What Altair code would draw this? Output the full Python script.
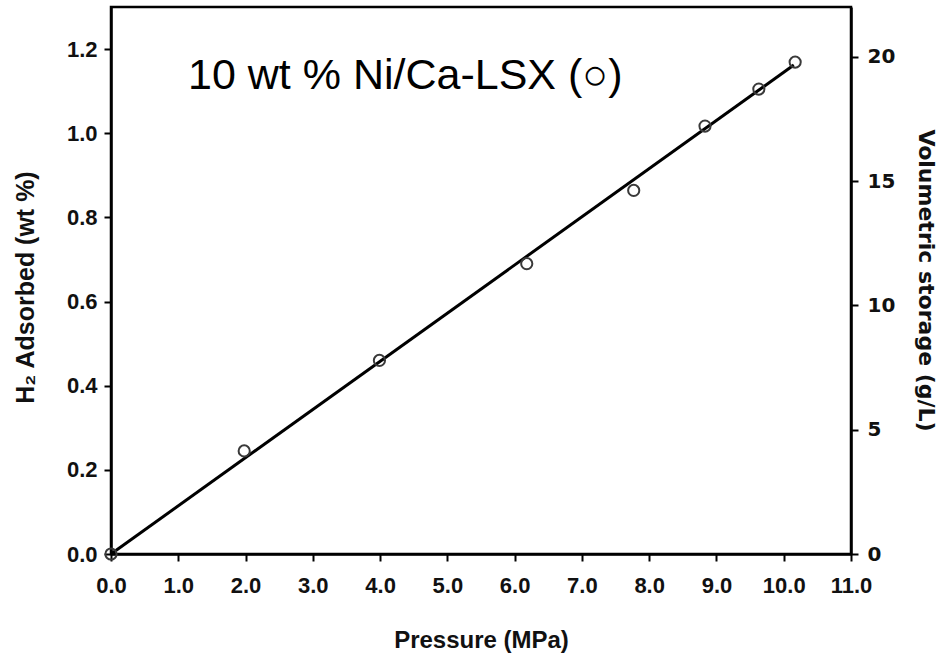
import altair as alt
import pandas as pd

# Measured hydrogen uptake of 10 wt % Ni/Ca-LSX
pressure = [0.0, 1.98, 3.99, 6.18, 7.77, 8.83, 9.63, 10.17]
adsorbed = [0.0, 0.245, 0.46, 0.69, 0.864, 1.017, 1.105, 1.169]

# Linear fit through the origin
fit_pressure = [0.0, 10.15]
fit_adsorbed = [0.0, 1.162]

# Axis ticks
x_ticks = [0.0, 1.0, 2.0, 3.0, 4.0, 5.0, 6.0, 7.0, 8.0, 9.0, 10.0, 11.0]
wt_ticks = [0.0, 0.2, 0.4, 0.6, 0.8, 1.0, 1.2]
vol_ticks = [0, 5, 10, 15, 20]

# wt % -> g/L conversion used for the secondary axis
wt_max = 1.3
vol_max = 22.0

points = pd.DataFrame({"p": pressure, "wt": adsorbed})
fit = pd.DataFrame({"p": fit_pressure, "wt": fit_adsorbed})
vol = pd.DataFrame({"p": [0.0] * len(vol_ticks), "vol": vol_ticks})

ARIAL = "Liberation Sans"
VERDANA = "DejaVu Sans"

common = dict(
    tickSize=7, tickWidth=2, domainWidth=2.5, domainColor="black",
    tickColor="black", grid=False, labelColor="#111", labelFlush=False,
    labelOverlap=False, titleColor="#111",
)

x_enc = alt.X(
    "p:Q",
    scale=alt.Scale(domain=[0, 11], nice=False, zero=False),
    axis=alt.Axis(
        values=x_ticks, format=".1f", title="Pressure (MPa)",
        labelFont=ARIAL, labelFontSize=22, labelFontWeight="bold",
        labelPadding=14,
        titleFont=ARIAL, titleFontSize=24, titleFontWeight="bold",
        titleX=370, titleY=93, titleBaseline="alphabetic", titleAlign="center",
        **common,
    ),
)

y_left = alt.Y(
    "wt:Q",
    scale=alt.Scale(domain=[0, wt_max], nice=False),
    axis=alt.Axis(
        values=wt_ticks, format=".1f", title="H₂ Adsorbed (wt %)",
        orient="left",
        labelFont=ARIAL, labelFontSize=22, labelFontWeight="bold",
        labelPadding=7,
        titleFont=ARIAL, titleFontSize=25, titleFontWeight="bold",
        titleAngle=-90, titleX=-78, titleY=280,
        titleBaseline="alphabetic", titleAlign="center",
        **common,
    ),
)

line = alt.Chart(fit).mark_line(color="black", strokeWidth=3).encode(
    x=x_enc, y=y_left
)

circles = alt.Chart(points).mark_point(
    shape="circle", filled=False, size=125, color="#3a3a3a", strokeWidth=2, opacity=1
).encode(x=x_enc, y=y_left)

left = alt.layer(line, circles)

right = alt.Chart(vol).mark_point(opacity=0).encode(
    x=x_enc,
    y=alt.Y(
        "vol:Q",
        scale=alt.Scale(domain=[0, vol_max], nice=False),
        axis=alt.Axis(
            values=vol_ticks, format="d", title="Volumetric storage (g/L)",
            orient="right",
            labelFont=VERDANA, labelFontSize=20, labelFontWeight="bold",
            labelPadding=9,
            titleFont=VERDANA, titleFontSize=22, titleFontWeight="bold",
            titleAngle=90, titleX=67, titleY=273,
            titleBaseline="alphabetic", titleAlign="center",
            **common,
        ),
    ),
)

label = alt.Chart(pd.DataFrame({"t": ["10 wt % Ni/Ca-LSX (○)"]})).mark_text(
    font=ARIAL, fontSize=43, align="left", baseline="alphabetic", color="black"
).encode(x=alt.value(77), y=alt.value(82), text="t:N")

chart = (
    alt.layer(left, right, label)
    .resolve_scale(y="independent")
    .properties(
        width=740,
        height=547,
        autosize=alt.AutoSizeParams(type="none"),
        padding={"left": 111, "top": 7, "right": 88, "bottom": 99},
        background="white",
    )
    .configure_view(stroke="black", strokeWidth=2.5)
)

chart.save("out.html", embed_options={"renderer": "svg", "actions": False})
